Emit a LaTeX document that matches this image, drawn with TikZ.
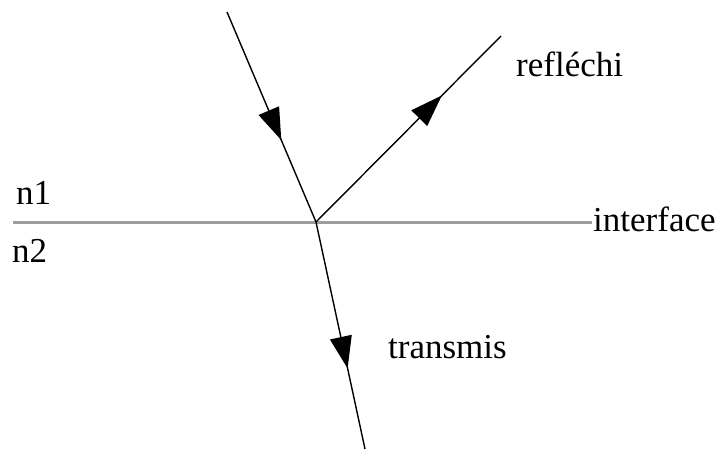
\documentclass[tikz,border=0pt]{standalone}
\usepackage{fontspec}
\setmainfont{Liberation Serif}
\usetikzlibrary{arrows.meta,decorations.markings}
\tikzset{
  ray/.style={draw=black, line width=1.4pt},
  iface/.style={draw=black!38, line width=3pt},
  lbl/.style={anchor=base west, inner sep=0pt, font=\fontsize{35}{40}\selectfont},
  midarrow/.style={postaction={decorate, decoration={markings,
     mark=at position #1 with {\arrow{Triangle[length=32pt,width=22pt]}}}}}
}
\begin{document}
\begin{tikzpicture}[x=1pt,y=-1pt]
\useasboundingbox (0,0) rectangle (721,450);
\coordinate (A) at (227,12);
\coordinate (I) at (316,222);
\coordinate (R) at (501,36);
\coordinate (T) at (365,449);
\coordinate (L) at (13,222);
\coordinate (E) at (592,222);
\draw[iface] (L) -- (E);
\draw[ray, midarrow=0.61] (A) -- (I);
\draw[ray, midarrow=0.68] (I) -- (R);
\draw[ray, midarrow=0.645] (I) -- (T);
\node[lbl] (refl) at (516,76) {refléchi};
\node[lbl] (intf) at (593,231) {interface};
\node[lbl] (trans) at (388,358) {transmis};
\node[lbl] (n1) at (16,204) {n1};
\node[lbl] (n2) at (12,262) {n2};
\end{tikzpicture}
\end{document}
